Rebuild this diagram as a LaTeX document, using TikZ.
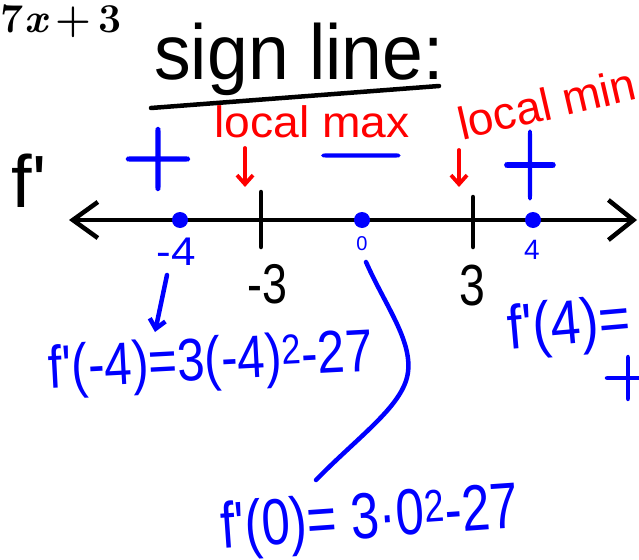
\documentclass[tikz,border=0pt]{standalone}
\usepackage{fontspec}
\usepackage{graphicx}
\newfontfamily\hand{Liberation Sans}
\newfontfamily\thicklm[FakeBold=1.6]{Latin Modern Roman}
\newcommand{\hsz}[1]{\fontsize{#1}{#1}\selectfont}
\usetikzlibrary{arrows.meta}
\definecolor{penblue}{RGB}{0,0,255}
\definecolor{penred}{RGB}{255,0,0}
\begin{document}
\begin{tikzpicture}[x=1pt,y=-1pt,
  pen/.style={line width=4.5pt,line cap=round,line join=round},
  bpen/.style={pen,draw=penblue},
  rpen/.style={pen,line width=3.8pt,draw=penred},
  lbl/.style={inner sep=0pt,outer sep=0pt},
  dot/.style={circle,fill=penblue,minimum size=16pt,inner sep=0pt},
  bl/.style={lbl,text=penblue,font=\hand},
  rl/.style={lbl,text=penred,font=\hand},
  kl/.style={lbl,text=black,font=\hand},
  sg/.style={lbl,text=penblue,font=\thicklm},
  ]
\useasboundingbox (0,0) rectangle (639,559);
% top-left printed expression
\node[lbl,anchor=base west] (expr) at (1,33) {\hsz{41}\bfseries 7\textit{x}\,+\,3};
% title
\node[kl,anchor=base] (title) at (299,80) {\hsz{78}\scalebox{0.94}[1]{sign line:}};
\coordinate (u1) at (151,108);
\coordinate (u2) at (439,86);
\draw[pen] (u1) -- (u2);
% red labels
\node[rl,anchor=base] (lmax) at (312,137) {\hsz{44}\scalebox{1.05}[1]{local max}};
\node[rl,anchor=base west,rotate=13] (lmin) at (462,140) {\hsz{46}local min};
% signs
\node[sg] (p1) at (158,159) {\hsz{100}+};
\node[sg,anchor=base] (m1) at (361,176) {\hsz{82}\scalebox{1.5}[1]{−}};
\node[sg] (p2) at (530,165) {\hsz{100}\scalebox{0.8}[1.1]{+}};
% f'
\node[kl,anchor=base west] (fp) at (12,207) {\hsz{74}f\textquotesingle};
% number line
\coordinate (L) at (69,220);
\coordinate (R) at (637,220);
\draw[pen,{Straight Barb[length=25pt,width=36pt]}-{Straight Barb[length=25pt,width=40pt]}] (L) -- (R);
\coordinate (t1a) at (261,192); \coordinate (t1b) at (261,247);
\coordinate (t2a) at (473,197); \coordinate (t2b) at (473,247);
\draw[pen] (t1a) -- (t1b);
\draw[pen] (t2a) -- (t2b);
% dots
\node[dot] (dm4) at (180,220) {};
\node[dot] (d0) at (362,220) {};
\node[dot] (d4) at (533,220) {};
% blue labels under dots
\node[bl] (lm4) at (176,252) {\hsz{40}\scalebox{1.1}[1]{-4}};
\node[bl] (l0) at (362,244) {\hsz{20}0};
\node[bl] (l4) at (532,250) {\hsz{28}4};
% black tick labels
\node[kl] (lm3) at (267,284) {\hsz{56}\scalebox{0.8}[1]{-3}};
\node[kl] (l3) at (472,286) {\hsz{58}\scalebox{0.8}[1]{3}};
% red arrows
\coordinate (ra1) at (245,148); \coordinate (rb1) at (245,187);
\coordinate (ra2) at (459,150); \coordinate (rb2) at (459,187);
\draw[rpen,-{Straight Barb[length=9pt,width=16pt]}] (ra1) -- (rb1);
\draw[rpen,-{Straight Barb[length=9pt,width=16pt]}] (ra2) -- (rb2);
% blue arrow to f'(-4)
\coordinate (ba) at (167,275); \coordinate (bb) at (155,332);
\draw[bpen,-{Straight Barb[length=9pt,width=16pt]}] (ba) -- (bb);
% evaluations
\node[bl,rotate=3] (fm4) at (211,364) {\hsz{48}\scalebox{1.03}[1.25]{f\textquotesingle(-4)=3(-4)\textsuperscript{2}-27}};
\node[bl,anchor=west,rotate=5] (f4) at (508,333) {\hsz{54}\scalebox{1}[1.15]{f\textquotesingle(4)=}};
\node[sg] (p3) at (628,378) {\hsz{72}+};
\node[bl,rotate=4] (f0) at (370,521) {\hsz{50}\scalebox{1.02}[1.3]{f\textquotesingle(0)= 3·0\textsuperscript{2}-27}};
% curve from 0 to f'(0)
\coordinate (c1) at (366,262);
\coordinate (c2) at (316,480);
\draw[bpen] (c1) .. controls (385,305) and (412,340) .. (408,372) .. controls (404,405) and (360,435) .. (c2);
\end{tikzpicture}
\end{document}
